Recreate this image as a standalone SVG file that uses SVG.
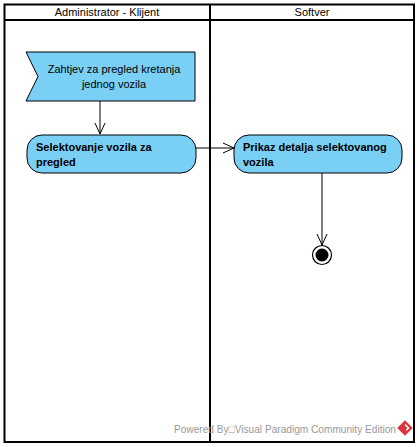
<svg xmlns="http://www.w3.org/2000/svg" width="418" height="447" viewBox="0 0 418 447">
<style>
.frame{fill:none;stroke:#000;stroke-width:2}
.node{fill:#7acff5;stroke:#000;stroke-width:1}
.lbl{font-family:"Liberation Sans",Arial,sans-serif;font-size:11px;fill:#000}
.b{font-weight:bold}
.edge{fill:none;stroke:#000;stroke-width:1}
.wm{font-family:"Liberation Sans",Arial,sans-serif;font-size:11px;fill:#999}
</style>
<defs>
<marker id="open" markerWidth="12" markerHeight="12" refX="11" refY="6" orient="auto" markerUnits="userSpaceOnUse">
<path d="M0,1 L11,6 L0,11" fill="none" stroke="#000" stroke-width="1"/>
</marker>
</defs>
<rect width="418" height="447" fill="#fff"/>
<g id="swimlanes">
<rect class="frame" x="4.5" y="4.5" width="409.5" height="437.5"/>
<line class="frame" x1="4.5" y1="20" x2="414" y2="20"/>
<line class="frame" x1="210" y1="4.5" x2="210" y2="442"/>
<text class="lbl" x="107" y="16" text-anchor="middle">Administrator - Klijent</text>
<text class="lbl" x="312" y="16" text-anchor="middle">Softver</text>
</g>
<g id="connectors">
<line class="edge" x1="100" y1="101" x2="100" y2="134" marker-end="url(#open)"/>
<line class="edge" x1="196" y1="148" x2="234" y2="148" marker-end="url(#open)"/>
<line class="edge" x1="322" y1="173" x2="322" y2="245" marker-end="url(#open)"/>
</g>
<g id="signal">
<polygon class="node" points="26,52 195,52 195,101 26,101 38,76.5"/>
<text class="lbl" x="114" y="73" text-anchor="middle">Zahtjev za pregled kretanja</text>
<text class="lbl" x="114" y="88" text-anchor="middle">jednog vozila</text>
</g>
<g id="action1">
<rect class="node" x="27" y="135" width="169" height="38" rx="15" ry="15"/>
<text class="lbl b" x="36" y="151">Selektovanje vozila za</text>
<text class="lbl b" x="36" y="166">pregled</text>
</g>
<g id="action2">
<rect class="node" x="234" y="135" width="168" height="38" rx="15" ry="15"/>
<text class="lbl b" x="243" y="151">Prikaz detalja selektovanog</text>
<text class="lbl b" x="243" y="166">vozila</text>
</g>
<g id="final">
<circle cx="322" cy="255" r="9.5" fill="#fff" stroke="#000" stroke-width="1.2"/>
<circle cx="322" cy="255" r="6.5" fill="#000"/>
</g>
<g id="watermark">
<text class="wm" x="174" y="433" textLength="222" lengthAdjust="spacingAndGlyphs">Powered By□Visual Paradigm Community Edition</text>
<g transform="translate(405,428) rotate(45)">
<rect x="-5.5" y="-5.5" width="11" height="11" fill="#d9363e"/>
<path d="M-2.5,-2.5 L2.5,-2.5 L2.5,0.5" fill="none" stroke="#fff" stroke-width="1.5"/>
</g>
</g>
</svg>
